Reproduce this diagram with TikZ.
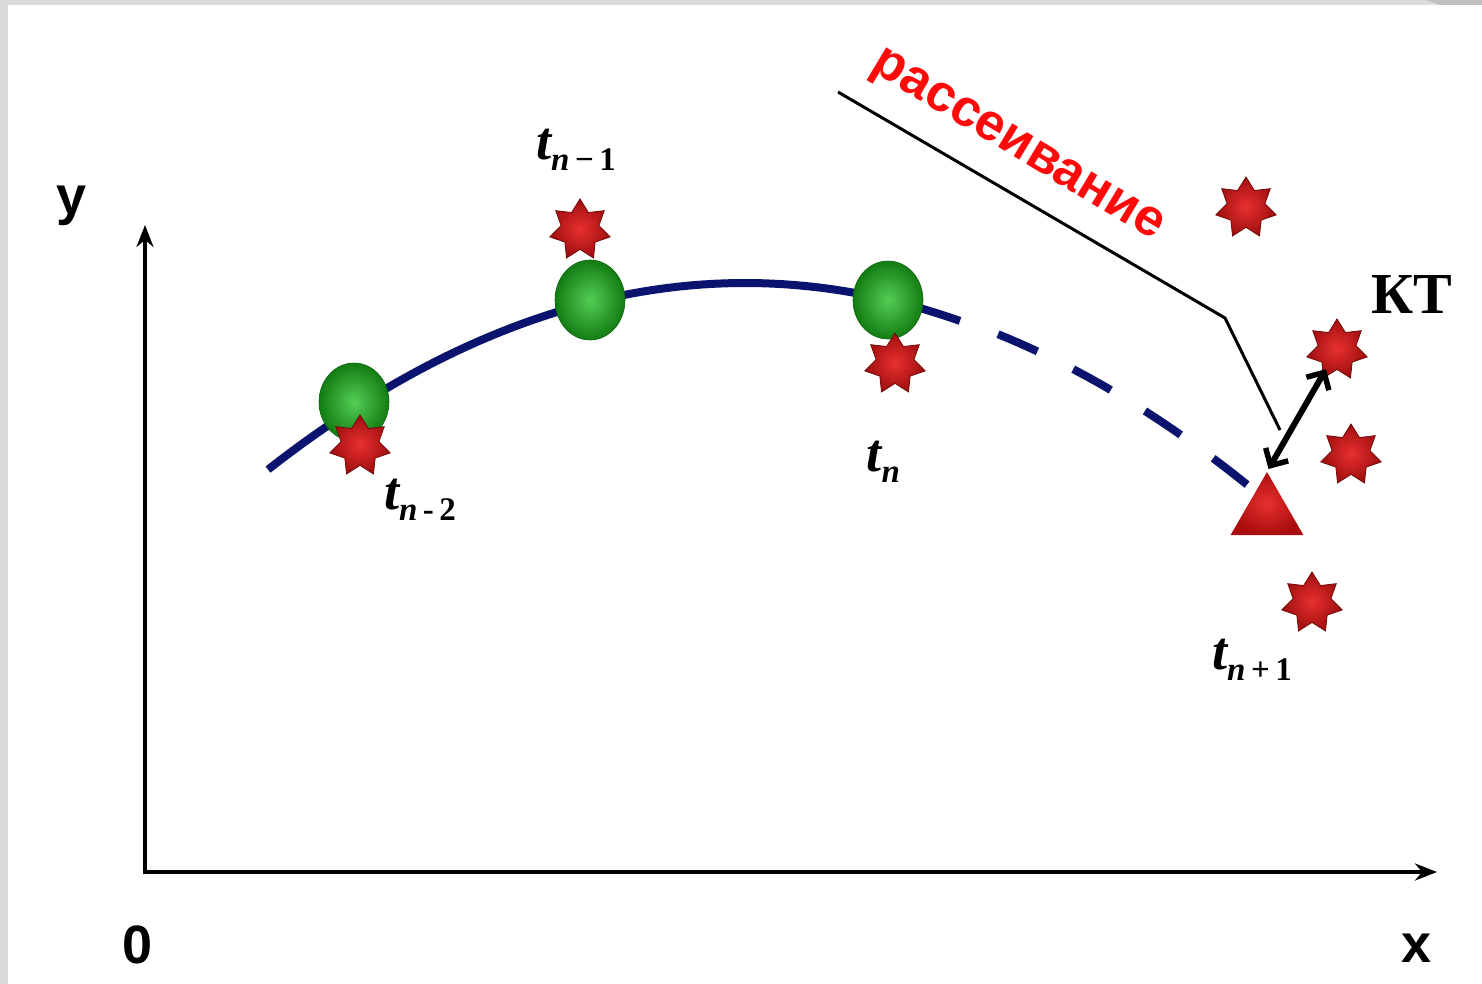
\documentclass[tikz,border=0pt]{standalone}
\usepackage{fontspec}
\setmainfont{Liberation Serif}
\newfontfamily\lserif{Liberation Serif}
\newfontfamily\lsans{Liberation Sans}
\usetikzlibrary{shapes.geometric,arrows.meta}
\definecolor{navy}{HTML}{0A146E}
\definecolor{tred}{HTML}{FF0A0A}
\definecolor{gin}{RGB}{85,205,85}
\definecolor{gout}{RGB}{18,125,18}
\definecolor{rin}{RGB}{232,48,48}
\definecolor{rout}{RGB}{160,14,14}
\newcommand\tlab[1]{{\lserif\fontsize{54}{54}\selectfont\bfseries\itshape t}{\lserif\fontsize{33}{33}\selectfont\bfseries\raisebox{-11pt}{\itshape n\upshape\,#1}}}
\begin{document}
\begin{tikzpicture}[x=1pt,y=-1pt,
  ballnode/.style={ellipse,inner sep=0pt,minimum width=70pt,minimum height=78pt,shading=radial,inner color=gin,outer color=gout,draw=gout!80!black,line width=0.6pt},
  starnode/.style={star,star points=7,star point ratio=1.6,minimum size=62pt,inner sep=0pt,shading=radial,inner color=rin,outer color=rout,draw=rout!70!black,line width=0.8pt},
  axis/.style={line width=4.5pt,-{Stealth[length=22pt,width=17pt]}},
  curve/.style={navy,line width=8pt},
  lab/.style={inner sep=0pt,anchor=center},
  sanslab/.style={inner sep=0pt,font=\lsans\bfseries\fontsize{54}{54}\selectfont}
]
\useasboundingbox (0,0) rectangle (1482,984);
\fill[black!14] (0,0) rectangle (1482,984);
\fill[white] (8,5) rectangle (1482,984);
\fill[black!25] (1425,0) .. controls (1435,3) .. (1440,5) -- (1482,5) -- (1482,0) -- cycle;

% axes
\coordinate (O) at (145,872);
\coordinate (Y) at (145,225);
\coordinate (X) at (1437,872);
\draw[axis] (O) -- (Y);
\draw[axis] ([xshift=-2.25pt]O) -- (X);
\node[sanslab] (ylab) at (72,206) {y};
\node[sanslab] (zero) at (138,945) {0};
\node[sanslab] (xlab) at (1416,948) {x};

% trajectory
\draw[curve] plot[domain=268:960,samples=60] (\x,{283+8.2*((\x-745)/100)^2});
\draw[curve,dash pattern=on 43pt off 40pt] plot[domain=998:1262,samples=40] (\x,{283+8.0*((\x-745)/100)^2});

% balls
\node[ballnode] (b1) at (354,402) {};
\node[ballnode,minimum height=80pt] (b2) at (590,300) {};
\node[ballnode] (b3) at (888,300) {};

% stars
\node[starnode] (s1) at (360,446) {};
\node[starnode] (s2) at (580,230) {};
\node[starnode] (s3) at (895,364) {};
\node[starnode] (s4) at (1246,208) {};
\node[starnode] (s5) at (1337,350) {};
\node[starnode] (s6) at (1351,455) {};
\node[starnode] (s7) at (1312,603) {};

% triangle target
\node[regular polygon,regular polygon sides=3,minimum size=84pt,inner sep=0pt,
      shading=radial,inner color=rin,outer color=rout!90!red] (tri) at (1267,514) {};

% callout line
\coordinate (c1) at (838,92);
\coordinate (c2) at (1225,318);
\coordinate (c3) at (1280,430);
\draw[line width=3pt] (c1) -- (c2) -- (c3);
\node[lab,rotate=-31,text=tred,font=\lsans\bfseries\fontsize{52}{52}\selectfont] (rass) at (1016,148) {рассеивание};

% double arrow
\draw[line width=6pt,{Straight Barb[length=13pt,width=26pt,line width=5.5pt]}-{Straight Barb[length=13pt,width=26pt,line width=5.5pt]},shorten <=3pt,shorten >=22pt]
  (tri.corner 1) -- (s5.center);

% labels
\node[lab] (ln1) at (576,150) {\tlab{−\,1}};
\node[lab] (ln) at (886,462) {\tlab{}};
\node[lab] (ln2) at (420,500) {\tlab{-\,2}};
\node[lab] (lnp) at (1252,660) {\tlab{+\,1}};
\node[lab,font=\lserif\bfseries\fontsize{58}{58}\selectfont] (kt) at (1412,295) {КТ};
\end{tikzpicture}
\end{document}
